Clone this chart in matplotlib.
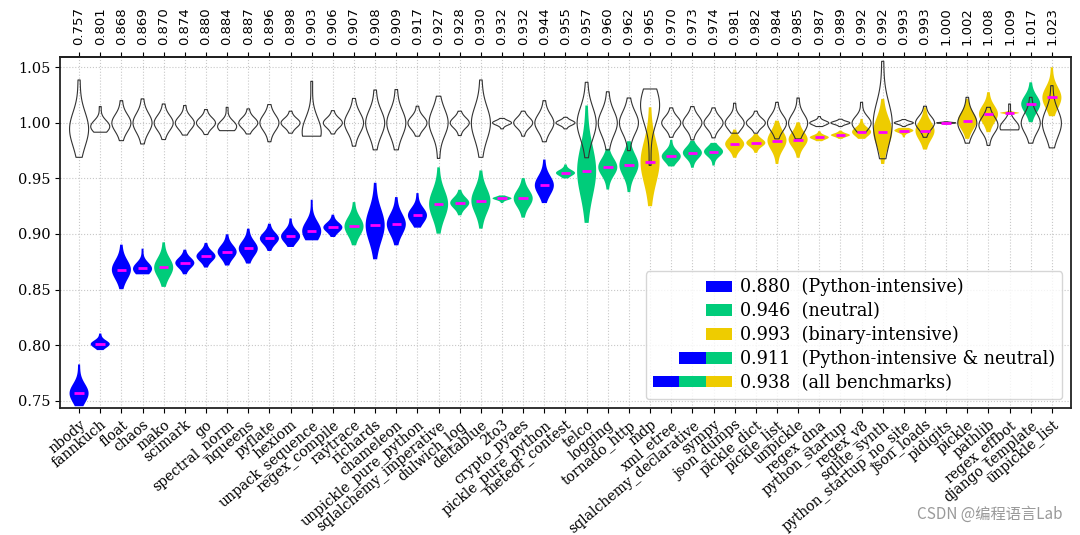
import matplotlib
matplotlib.use('Agg')
import matplotlib.pyplot as plt
import numpy as np
from matplotlib.legend_handler import HandlerBase
from matplotlib.patches import Rectangle

names = ['nbody', 'fannkuch', 'float', 'chaos', 'mako', 'scimark', 'go', 'spectral_norm',
         'nqueens', 'pyflate', 'hexiom', 'unpack_sequence', 'regex_compile', 'raytrace',
         'richards', 'chameleon', 'unpickle_pure_python', 'sqlalchemy_imperative',
         'dulwich_log', 'deltablue', '2to3', 'crypto_pyaes', 'pickle_pure_python',
         'meteor_contest', 'telco', 'logging', 'tornado_http', 'mdp', 'xml_etree',
         'sqlalchemy_declarative', 'sympy', 'json_dumps', 'pickle_dict', 'pickle_list',
         'unpickle', 'regex_dna', 'python_startup', 'regex_v8', 'sqlite_synth',
         'python_startup_no_site', 'json_loads', 'pidigits', 'pickle', 'pathlib',
         'regex_effbot', 'django_template', 'unpickle_list']

# P = Python-intensive, N = neutral, B = binary-intensive
groups = ['P', 'P', 'P', 'P', 'N', 'P', 'P', 'P', 'P', 'P', 'P', 'P', 'P', 'N',
          'P', 'P', 'P', 'N', 'N', 'N', 'N', 'N', 'P', 'N', 'N', 'N', 'N', 'B', 'N',
          'N', 'N', 'B', 'B', 'B', 'B', 'B', 'B', 'B', 'B', 'B', 'B', 'B', 'B', 'B',
          'B', 'N', 'B']

# median ratio (top labels)
ratio_med = [0.757, 0.801, 0.868, 0.869, 0.870, 0.874, 0.880, 0.884, 0.887, 0.896,
             0.898, 0.903, 0.906, 0.907, 0.908, 0.909, 0.917, 0.927, 0.928, 0.930,
             0.932, 0.932, 0.944, 0.955, 0.957, 0.960, 0.962, 0.965, 0.970, 0.973,
             0.974, 0.981, 0.982, 0.984, 0.985, 0.987, 0.989, 0.992, 0.992, 0.993,
             0.993, 1.000, 1.002, 1.008, 1.009, 1.017, 1.023]
ratio_lo = [0.745, 0.7955, 0.8503, 0.8637, 0.8524, 0.8637, 0.8698, 0.8716, 0.8734, 0.8847,
            0.8883, 0.8943, 0.8973, 0.8898, 0.8772, 0.8898, 0.9057, 0.9003, 0.9168, 0.9048,
            0.9278, 0.9147, 0.9278, 0.950, 0.910, 0.940, 0.9377, 0.925, 0.9608, 0.9596,
            0.9616, 0.9686, 0.973, 0.963, 0.9686, 0.9835, 0.9856, 0.9856, 0.963, 0.987,
            0.976, 0.9995, 0.9856, 0.9916, 1.0075, 1.0006, 1.006]
ratio_hi = [0.7826, 0.8104, 0.8904, 0.8868, 0.8925, 0.8859, 0.892, 0.8997, 0.9048, 0.9093,
            0.914, 0.9308, 0.9174, 0.9287, 0.9461, 0.9332, 0.9368, 0.960, 0.9398, 0.9572,
            0.9347, 0.9503, 0.967, 0.9626, 1.0156, 0.9766, 0.9835, 1.014, 0.9847, 0.984,
            0.982, 0.994, 0.990, 1.002, 1.0005, 0.9925, 0.993, 1.0036, 1.0216, 0.9955,
            1.014, 1.0005, 1.0216, 1.0276, 1.011, 1.0365, 1.050]

# baseline runs (outlined violins around 1.0)
base_mid = [0.995, 0.997, 1.0, 1.0, 1.0, 1.0, 1.0, 0.997, 1.0, 1.0, 1.0, 0.992, 1.0, 1.0,
            1.0, 1.0, 1.0, 1.0, 1.0, 1.0, 1.0, 1.0, 1.0, 1.0, 1.0, 1.0, 1.0, 1.015, 1.0,
            1.0, 1.0, 1.0, 1.0, 1.0, 1.0, 1.0, 1.0, 1.0, 1.0, 1.0, 1.0, 1.0, 1.0, 0.998,
            0.996, 1.0, 1.0]
base_lo = [0.969, 0.9916, 0.984, 0.981, 0.985, 0.989, 0.9895, 0.993, 0.990, 0.983,
           0.9907, 0.988, 0.990, 0.979, 0.9757, 0.9757, 0.988, 0.968, 0.9886, 0.969,
           0.9946, 0.988, 0.983, 0.9946, 0.9686, 0.9757, 0.975, 0.9617, 0.987, 0.9847,
           0.9865, 0.9907, 0.9907, 0.9856, 0.9856, 0.9967, 0.9967, 0.9916, 0.9677, 0.9967,
           0.987, 0.999, 0.9817, 0.9797, 0.9937, 0.9817, 0.9775]
base_hi = [1.0386, 1.0147, 1.020, 1.0216, 1.017, 1.0156, 1.012, 1.014, 1.0126, 1.0165,
           1.0105, 1.0374, 1.011, 1.022, 1.0296, 1.030, 1.015, 1.024, 1.0105, 1.0386,
           1.004, 1.0105, 1.020, 1.005, 1.0365, 1.028, 1.0224, 1.0305, 1.0135, 1.0147,
           1.0135, 1.0177, 1.0105, 1.0185, 1.0224, 1.0057, 1.0033, 1.0185, 1.0554, 1.003,
           1.015, 1.001, 1.023, 1.014, 1.017, 1.023, 1.0335]

legend_vals = ['0.880', '0.946', '0.993', '0.911', '0.938']
legend_names = ['(Python-intensive)', '(neutral)', '(binary-intensive)',
                '(Python-intensive & neutral)', '(all benchmarks)']

colors = {'P': '#0000ff', 'N': '#00cc7a', 'B': '#eecc00'}
# how many runs sit at the low end, the middle and the high end of each violin
counts = [1, 10, 1]

pos = np.arange(len(names))
ratio_samples = [np.repeat([lo, m, hi], counts) for lo, m, hi in zip(ratio_lo, ratio_med, ratio_hi)]
base_samples = [np.repeat([lo, m, hi], counts) for lo, m, hi in zip(base_lo, base_mid, base_hi)]

fig = plt.figure(figsize=(10.8, 5.35), dpi=100)
ax = fig.add_axes([0.0556, 0.2374, 0.936, 0.6561])

vp = ax.violinplot(ratio_samples, positions=pos, widths=0.9, showmedians=True,
                   showextrema=False, bw_method=1.0)
for body, g in zip(vp['bodies'], groups):
    body.set_facecolor(colors[g])
    body.set_edgecolor('none')
    body.set_alpha(1)
    body.set_zorder(2)
vp['cmedians'].set_color('#ff00ff')
vp['cmedians'].set_linewidth(2)
vp['cmedians'].set_zorder(4)

vb = ax.violinplot(base_samples, positions=pos, widths=0.9, showextrema=False, bw_method=1.0)
for body in vb['bodies']:
    body.set_facecolor('none')
    body.set_edgecolor('#333333')
    body.set_linewidth(0.8)
    body.set_alpha(1)
    body.set_zorder(3)

ax.set_xlim(-0.9, len(names) - 0.1)
ax.set_ylim(0.7434, 1.0593)
yt = [0.75, 0.80, 0.85, 0.90, 0.95, 1.00, 1.05]
ax.set_yticks(yt)
ax.set_yticklabels(['%.2f' % v for v in yt], family='DejaVu Serif', fontsize=10.5)
ax.set_xticks(pos)
ax.set_xticklabels(names, rotation=40, ha='right', rotation_mode='anchor',
                   family='DejaVu Serif', fontsize=10)
ax.grid(True, linestyle=':', color='#c8c8c8', linewidth=0.8)
ax.set_axisbelow(True)
for sp in ax.spines.values():
    sp.set_linewidth(1.3)
    sp.set_color('#222222')

top = ax.secondary_xaxis('top')
top.set_xticks(pos)
top.set_xticklabels(['%.3f' % v for v in ratio_med], rotation=90, fontsize=9.5,
                    family='DejaVu Sans')
top.tick_params(axis='x', pad=5)
top.spines['top'].set_linewidth(1.3)


class ColorStrip:
    def __init__(self, cols):
        self.cols = cols


class StripHandler(HandlerBase):
    def create_artists(self, legend, orig_handle, xdescent, ydescent, width, height,
                       fontsize, trans):
        w = width / 3
        n = len(orig_handle.cols)
        arts = []
        for i, c in enumerate(orig_handle.cols):
            x0 = width - (n - i) * w - xdescent
            arts.append(Rectangle((x0, -ydescent), w, height, facecolor=c,
                                  edgecolor='none', transform=trans))
        return arts


handles = [ColorStrip([colors['P']]), ColorStrip([colors['N']]), ColorStrip([colors['B']]),
           ColorStrip([colors['P'], colors['N']]),
           ColorStrip([colors['P'], colors['N'], colors['B']])]
labels = [v + '  ' + n for v, n in zip(legend_vals, legend_names)]
ax.legend(handles, labels, handler_map={ColorStrip: StripHandler()}, loc='lower right',
          prop={'family': 'DejaVu Serif', 'size': 12.7}, handlelength=4.5, handleheight=0.6,
          handletextpad=0.45, labelspacing=0.33)

fig.text(0.984, 0.022, 'CSDN @编程语言Lab', ha='right', va='bottom', color='#9a9a9a',
         fontsize=11, family=['Noto Sans CJK SC', 'DejaVu Sans'])

fig.savefig('out.png', dpi=100)
